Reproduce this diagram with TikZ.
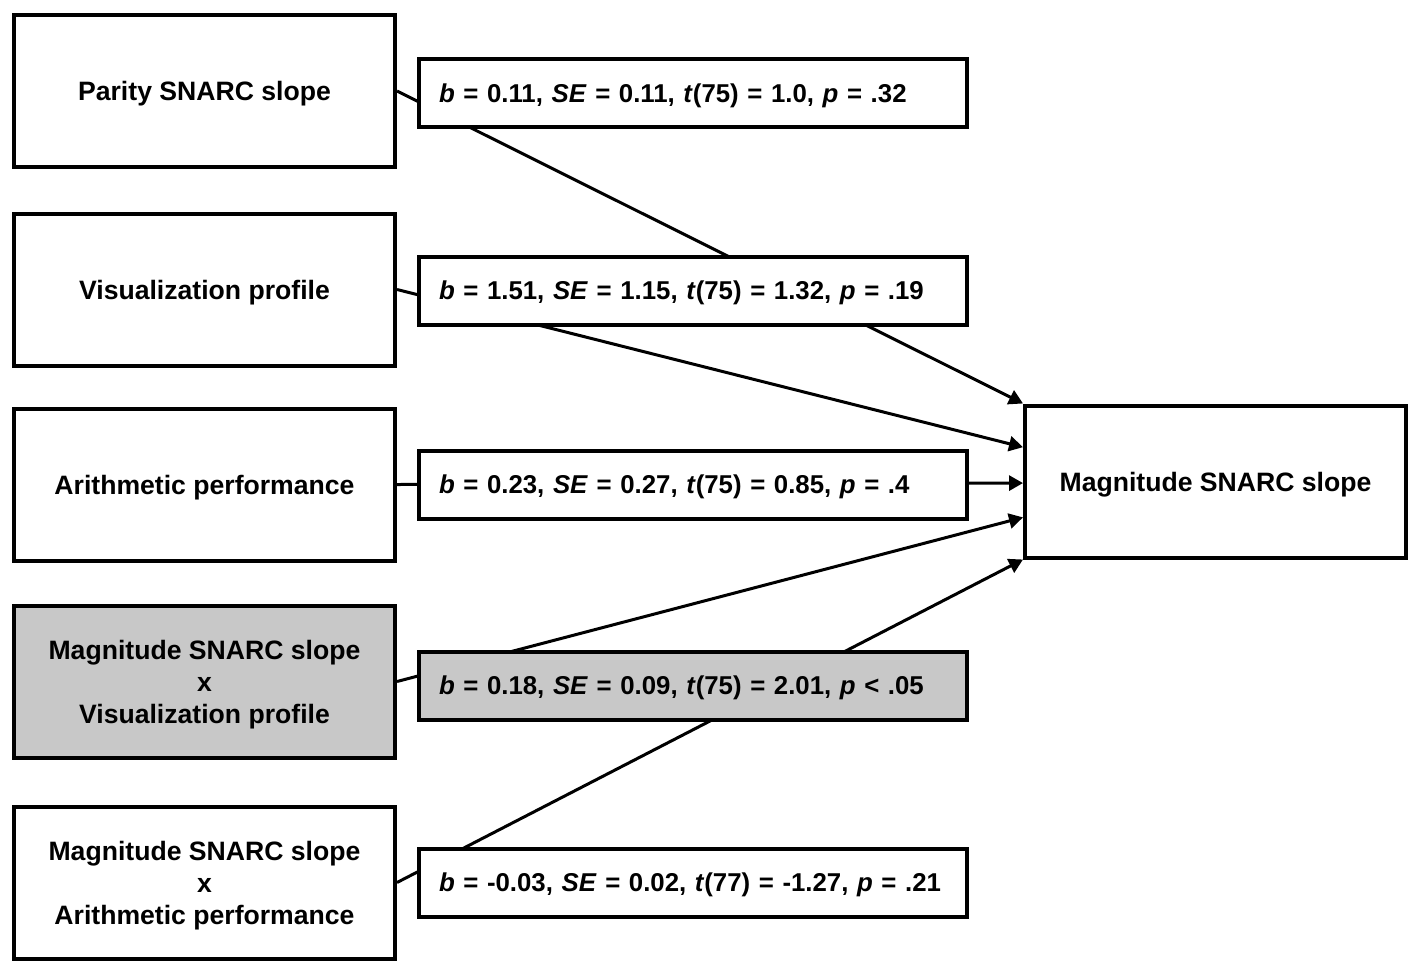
\documentclass[tikz,border=0pt]{standalone}
\usepackage{fontspec}
\setmainfont{Liberation Sans}
\usetikzlibrary{positioning,calc,arrows.meta}
\definecolor{boxgray}{RGB}{200,200,200}

\begin{document}
\begin{tikzpicture}[
  x=0.5pt, y=-0.5pt,
  node distance=1cm and 10pt,
  font=\fontsize{13.3}{16}\selectfont\bfseries,
  varbox/.style={draw,line width=2pt,minimum width=190.5pt,minimum height=76pt,align=center,inner sep=0pt,text depth=0pt},
  statbox/.style={draw,line width=2pt,fill=white,minimum width=274pt,minimum height=34pt,text width=254pt,align=left,inner sep=0pt,text depth=0pt,font=\fontsize{12.9}{16}\selectfont\bfseries},
  effect/.style={line width=1.5pt,-{Triangle[length=7pt,width=7.5pt]}}
]
\useasboundingbox (0,0) rectangle (1417,969);

\node[varbox] (parity) at (204.5,91) {Parity SNARC slope};
\node[varbox] (vis) at (204.5,289.5) {Visualization profile};
\node[varbox] (arith) at (204.5,484.5) {Arithmetic performance};
\node[varbox,fill=boxgray] (magvis) at (204.5,681.5) {Magnitude SNARC slope\\x\\Visualization profile};
\node[varbox] (magarith) at (204.5,882.5) {Magnitude SNARC slope\\x\\Arithmetic performance};
\node[varbox] (mag) at (1215.5,481.5) {Magnitude SNARC slope};

\draw[effect] (parity.east) -- (mag.north west);
\draw[effect] (vis.east) -- ($(mag.north west)!0.28!(mag.south west)$);
\draw[effect] (arith.east) -- ($(mag.north west)!0.51!(mag.south west)$);
\draw[effect] (magvis.east) -- ($(mag.north west)!0.73!(mag.south west)$);
\draw[effect] (magarith.east) -- (mag.south west);

% coefficients on top of the paths
\node[statbox,right=of parity,yshift=-1pt] (sparity) {\textit{b} = 0.11, \textit{SE} = 0.11, \textit{t}(75) = 1.0, \textit{p} = .32};
\node[statbox,right=of vis,yshift=-0.5pt] (svis) {\textit{b} = 1.51, \textit{SE} = 1.15, \textit{t}(75) = 1.32, \textit{p} = .19};
\node[statbox,right=of arith] (sarith) {\textit{b} = 0.23, \textit{SE} = 0.27, \textit{t}(75) = 0.85, \textit{p} = .4};
\node[statbox,fill=boxgray,right=of magvis,yshift=-2pt] (smagvis) {\textit{b} = 0.18, \textit{SE} = 0.09, \textit{t}(75) = 2.01, \textit{p} < .05};
\node[statbox,right=of magarith] (smagarith) {\textit{b} = -0.03, \textit{SE} = 0.02, \textit{t}(77) = -1.27, \textit{p} = .21};

\end{tikzpicture}
\end{document}
